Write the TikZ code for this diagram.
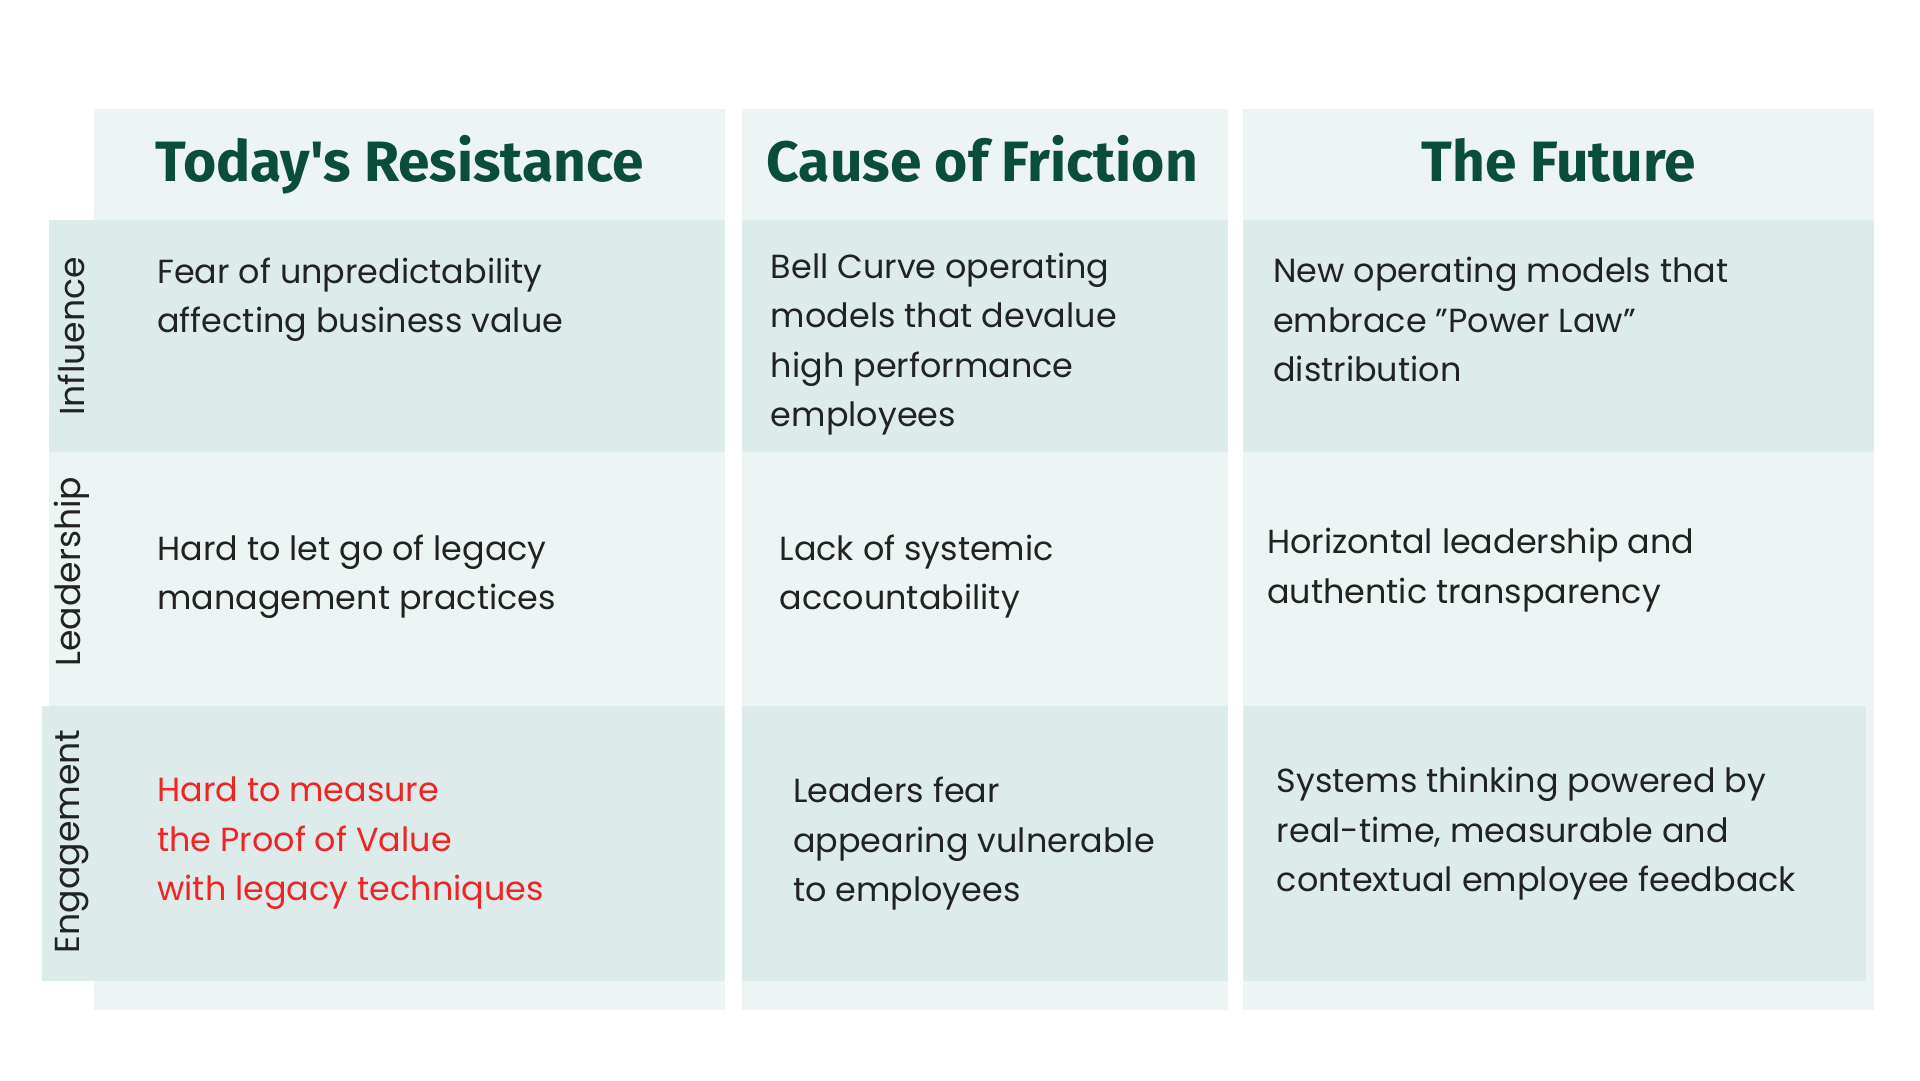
\documentclass[tikz,border=0pt]{standalone}
\usepackage{fontspec}
\setmainfont{Poppins}
\newfontfamily\headfont{Fira Sans}
\definecolor{lite}{HTML}{EDF5F4}
\definecolor{dark}{HTML}{DDECEA}
\definecolor{hgreen}{HTML}{0B4D3C}
\definecolor{txt}{HTML}{222222}
\definecolor{redt}{HTML}{F02424}
\begin{document}
\begin{tikzpicture}[x=1pt,y=-1pt,
 head/.style={font=\headfont\bfseries\fontsize{46}{52}\selectfont,text=hgreen,anchor=base,inner sep=0},
 cell/.style={font=\fontsize{27}{40}\selectfont,text=txt,align=left,anchor=north west,inner sep=0},
 side/.style={font=\fontsize{28}{30}\selectfont,text=txt,rotate=90,inner sep=0}]
\useasboundingbox[fill=white] (0,0) rectangle (1552,873);
% column backgrounds
\fill[lite] (76,88) rectangle (586,816);
\fill[lite] (600,88) rectangle (993,816);
\fill[lite] (1005,88) rectangle (1515,816);
% dark rows
\fill[dark] (40,178) rectangle (586,365);
\fill[dark] (600,178) rectangle (993,365);
\fill[dark] (1005,178) rectangle (1515,365);
\fill[lite] (40,365) rectangle (76,571);
\fill[dark] (34,571) rectangle (586,793);
\fill[dark] (600,571) rectangle (993,793);
\fill[dark] (1005,571) rectangle (1508,793);
% headers
\node[head] (h1) at (323,147) {Today's Resistance};
\node[head] (h2) at (794,147) {Cause of Friction};
\node[head] (h3) at (1260,147) {The Future};
% side labels
\node[side] (s1) at (58,272) {Influence};
\node[side] (s2) at (58,462) {Leadership};
\node[side] (s3) at (58,680) {Engagement};
% cells
\node[cell] (c11) at (127,208) {Fear of unpredictability\\affecting business value};
\node[cell] (c12) at (623,204) {Bell Curve operating\\models that devalue\\high performance\\employees};
\node[cell] (c13) at (1029,208) {New operating models that\\embrace \char"22 Power Law\char"22\\distribution};
\node[cell] (c21) at (127,432) {Hard to let go of legacy\\management practices};
\node[cell] (c22) at (630,432) {Lack of systemic\\accountability};
\node[cell] (c23) at (1024,427) {Horizontal leadership and\\authentic transparency};
\node[cell,text=redt] (c31) at (127,628) {Hard to measure\\the Proof of Value\\with legacy techniques};
\node[cell] (c32) at (641,628) {Leaders fear\\appearing vulnerable\\to employees};
\node[cell] (c33) at (1032,620) {Systems thinking powered by\\real-time, measurable and\\contextual employee feedback};
\end{tikzpicture}
\end{document}
